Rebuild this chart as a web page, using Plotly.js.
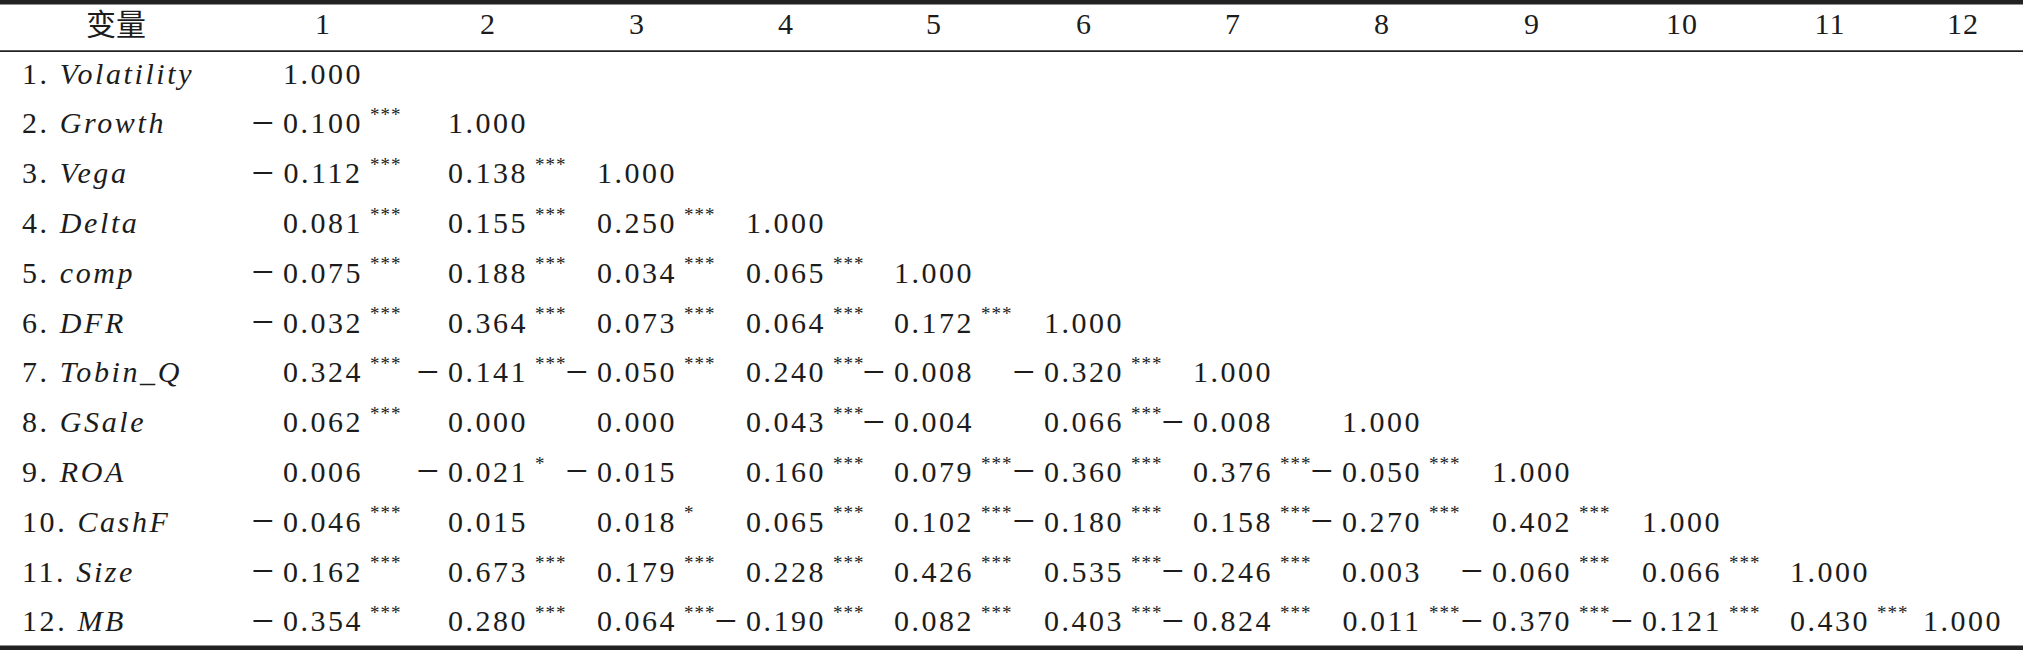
<!DOCTYPE html>
<html>
<head>
<meta charset="utf-8">
<script src="https://cdn.plot.ly/plotly-3.0.1.min.js"></script>
<style>
html,body{margin:0;padding:0;background:#fff;}
#chart{width:2023px;height:650px;}
/* wide typesetting of the original: spaced digits and math-italic labels */
#chart .scatterlayer .trace:nth-child(3) .textpoint text{letter-spacing:2.6px;}
#chart .scatterlayer .trace:nth-child(4) .textpoint text{letter-spacing:2.5px;}
#chart .scatterlayer .trace:nth-child(1) .textpoint text{letter-spacing:1px;}
#chart .scatterlayer .trace:nth-child(6) .textpoint text{letter-spacing:1px;}
</style>
</head>
<body>
<div id="chart"></div>
<script>
// ---------- data ----------
var headerLabel = "变量";
var columnLabels = ["1","2","3","4","5","6","7","8","9","10","11","12"];
var variableNames = ["Volatility","Growth","Vega","Delta","comp","DFR","Tobin_Q","GSale","ROA","CashF","Size","MB"];

var corrValues = [
  [1.000],
  [-0.100, 1.000],
  [-0.112, 0.138, 1.000],
  [0.081, 0.155, 0.250, 1.000],
  [-0.075, 0.188, 0.034, 0.065, 1.000],
  [-0.032, 0.364, 0.073, 0.064, 0.172, 1.000],
  [0.324, -0.141, -0.050, 0.240, -0.008, -0.320, 1.000],
  [0.062, 0.000, 0.000, 0.043, -0.004, 0.066, -0.008, 1.000],
  [0.006, -0.021, -0.015, 0.160, 0.079, -0.360, 0.376, -0.050, 1.000],
  [-0.046, 0.015, 0.018, 0.065, 0.102, -0.180, 0.158, -0.270, 0.402, 1.000],
  [-0.162, 0.673, 0.179, 0.228, 0.426, 0.535, -0.246, 0.003, -0.060, 0.066, 1.000],
  [-0.354, 0.280, 0.064, -0.190, 0.082, 0.403, -0.824, 0.011, -0.370, -0.121, 0.430, 1.000]
];

var sigStars = [
  [""],
  ["***", ""],
  ["***", "***", ""],
  ["***", "***", "***", ""],
  ["***", "***", "***", "***", ""],
  ["***", "***", "***", "***", "***", ""],
  ["***", "***", "***", "***", "", "***", ""],
  ["***", "", "", "***", "", "***", "", ""],
  ["", "*", "", "***", "***", "***", "***", "***", ""],
  ["***", "", "*", "***", "***", "***", "***", "***", "***", ""],
  ["***", "***", "***", "***", "***", "***", "***", "", "***", "***", ""],
  ["***", "***", "***", "***", "***", "***", "***", "***", "***", "***", "***", ""]
];

// ---------- layout geometry (pixel-based x axis, row-index y axis) ----------
var W = 2023, H = 650;
var colCenters = [323, 488, 637, 786, 934, 1084, 1233, 1382, 1532, 1682, 1830, 1963];
var labelX = 22, headerX = 116;
var rowTop = 26.2, rowPitch = 49.8;
var yTop = -rowTop / rowPitch, yBottom = (H - rowTop) / rowPitch;
var numHalf = 40, minusGap = 9, starGap = 7, starLift = 0.19;

var serif = "Liberation Serif, Times New Roman, serif";
var ink = "#1c1c1c";

// ---------- build text traces ----------
var numX = [], numY = [], numT = [];
var minX = [], minY = [], minT = [];
var stX = [], stY = [], stT = [];
corrValues.forEach(function (row, i) {
  row.forEach(function (v, j) {
    var r = i + 1;
    numX.push(colCenters[j]); numY.push(r); numT.push(Math.abs(v).toFixed(3));
    if (v < 0) { minX.push(colCenters[j] - numHalf - minusGap); minY.push(r); minT.push("\u2212"); }
    var s = sigStars[i][j];
    if (s) { stX.push(colCenters[j] + numHalf + starGap); stY.push(r - starLift); stT.push(s); }
  });
});

var labX = [], labY = [], labT = [];
variableNames.forEach(function (n, i) {
  labX.push(labelX); labY.push(i + 1);
  labT.push((i + 1) + ". <i>" + n + "</i>");
});

var traces = [
  { type: "scatter", mode: "text", x: colCenters, y: columnLabels.map(function () { return 0; }),
    text: columnLabels, textposition: "middle center",
    textfont: { family: serif, size: 30, color: ink }, hoverinfo: "skip", showlegend: false },
  { type: "scatter", mode: "text", x: [headerX], y: [0.02], text: [headerLabel], textposition: "middle center",
    textfont: { family: "Noto Sans CJK SC, sans-serif", size: 30, color: ink }, hoverinfo: "skip", showlegend: false },
  { type: "scatter", mode: "text", x: labX, y: labY, text: labT, textposition: "middle right",
    textfont: { family: serif, size: 30, color: ink }, hoverinfo: "skip", showlegend: false },
  { type: "scatter", mode: "text", x: numX, y: numY, text: numT, textposition: "middle center",
    textfont: { family: serif, size: 30, color: ink }, hoverinfo: "skip", showlegend: false },
  { type: "scatter", mode: "text", x: minX, y: minY, text: minT, textposition: "middle left",
    textfont: { family: serif, size: 40, color: ink }, hoverinfo: "skip", showlegend: false },
  { type: "scatter", mode: "text", x: stX, y: stY, text: stT, textposition: "middle right",
    textfont: { family: serif, size: 19, color: ink }, hoverinfo: "skip", showlegend: false }
];

var layout = {
  width: W, height: H,
  margin: { l: 0, r: 0, t: 0, b: 0, pad: 0 },
  paper_bgcolor: "#fff", plot_bgcolor: "#fff",
  xaxis: { range: [0, W], visible: false, fixedrange: true },
  yaxis: { range: [yBottom, yTop], visible: false, fixedrange: true },
  shapes: [
    { type: "rect", xref: "paper", yref: "paper", x0: 0, x1: 1, y0: 1 - 4.5 / H, y1: 1,
      fillcolor: "#222", line: { width: 0 } },
    { type: "line", xref: "paper", yref: "y", x0: 0, x1: 1, y0: 0.5, y1: 0.5,
      line: { color: "#222", width: 1.6 } },
    { type: "rect", xref: "paper", yref: "paper", x0: 0, x1: 1, y0: 0, y1: 4.5 / H,
      fillcolor: "#222", line: { width: 0 } }
  ],
  showlegend: false
};

Plotly.newPlot("chart", traces, layout, { staticPlot: true, displayModeBar: false });
</script>
</body>
</html>
